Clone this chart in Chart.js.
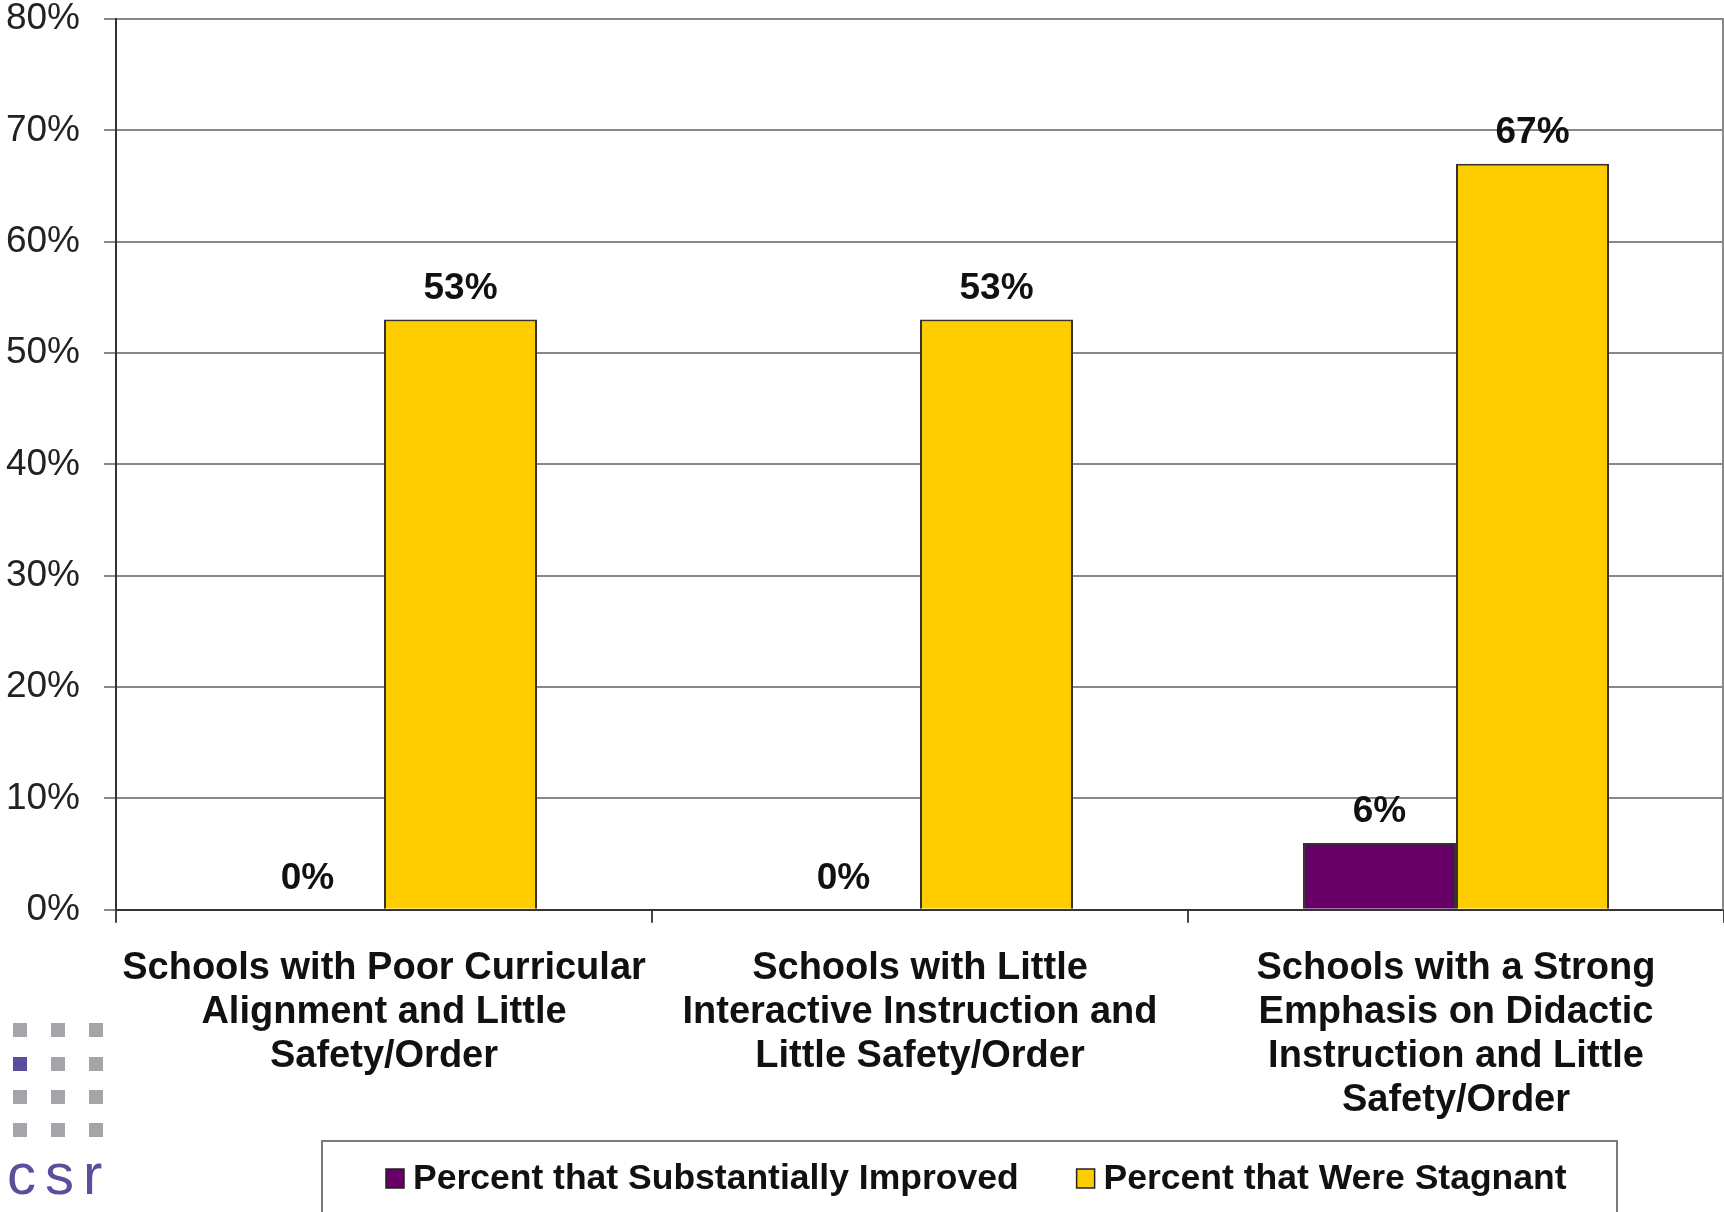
<!DOCTYPE html>
<html>
<head>
<meta charset="utf-8">
<script src="https://cdn.jsdelivr.net/npm/chart.js@4.4.0/dist/chart.umd.min.js"></script>
<style>
  body { margin: 0; background: #fff; }
  #wrap { position: relative; width: 1724px; height: 1212px; overflow: hidden; }
  #logo { position: absolute; left: 0; top: 0; }
  .sq { position: absolute; width: 14px; height: 14px; background: #a4a4a9; }
  .sq.on { background: #5a4f9b; }
  .lt { position: absolute; font: 58px "Liberation Sans", Arial, sans-serif; color: #5a4f9b; line-height: 1; }
</style>
</head>
<body>
<div id="wrap">
  <canvas id="myChart" width="1724" height="1212"></canvas>
  <div id="logo"></div>
</div>
<script>
var categories = [
    ['Schools with Poor Curricular', 'Alignment and Little', 'Safety/Order'],
    ['Schools with Little', 'Interactive Instruction and', 'Little Safety/Order'],
    ['Schools with a Strong', 'Emphasis on Didactic', 'Instruction and Little', 'Safety/Order']
];
var seriesNames = ['Percent that Substantially Improved', 'Percent that Were Stagnant'];
var improved = [0, 0, 6];
var stagnant = [53, 53, 67];
var yTicks = [0, 10, 20, 30, 40, 50, 60, 70, 80];

// small csr logo in the corner
var logo = document.getElementById('logo');
var cols = [13, 51, 89], rows = [1023, 1057, 1090, 1123];
rows.forEach(function (y, r) {
    cols.forEach(function (x, c) {
        var d = document.createElement('div');
        d.className = 'sq' + (r === 1 && c === 0 ? ' on' : '');
        d.style.left = x + 'px';
        d.style.top = y + 'px';
        logo.appendChild(d);
    });
});
['c', 's', 'r'].forEach(function (ch, i) {
    var s = document.createElement('span');
    s.className = 'lt';
    s.textContent = ch;
    s.style.left = (cols[i] - 6) + 'px';
    s.style.top = '1145px';
    logo.appendChild(s);
});

var labelFont = 'bold 37px "Liberation Sans", Arial, sans-serif';

// value labels over each bar
var valueLabels = {
    id: 'valueLabels',
    afterDatasetsDraw: function (chart) {
        var ctx = chart.ctx;
        ctx.save();
        ctx.font = labelFont;
        ctx.fillStyle = '#111';
        ctx.textAlign = 'center';
        ctx.textBaseline = 'middle';
        chart.data.datasets.forEach(function (ds, i) {
            chart.getDatasetMeta(i).data.forEach(function (bar, j) {
                ctx.fillText(ds.data[j] + '%', bar.x, bar.y - 31);
            });
        });
        ctx.restore();
    }
};

// right border of the plot and the boxed legend underneath
var frame = {
    id: 'frame',
    beforeDatasetsDraw: function (chart) {
        var ctx = chart.ctx, a = chart.chartArea;
        ctx.save();
        ctx.strokeStyle = '#888';
        ctx.lineWidth = 2;
        ctx.beginPath();
        ctx.moveTo(a.right - 1, a.top);
        ctx.lineTo(a.right - 1, a.bottom);
        ctx.stroke();
        ctx.restore();
    },
    afterDraw: function (chart) {
        var ctx = chart.ctx;
        ctx.save();
        ctx.strokeStyle = '#7a7a7a';
        ctx.lineWidth = 2;
        ctx.strokeRect(322, 1141, 1295, 90);
        ctx.font = 'bold 35.5px "Liberation Sans", Arial, sans-serif';
        ctx.textBaseline = 'middle';
        var x = 386;
        chart.data.datasets.forEach(function (ds) {
            ctx.fillStyle = ds.backgroundColor;
            ctx.fillRect(x, 1169, 18, 19);
            ctx.strokeStyle = '#222';
            ctx.lineWidth = 1.5;
            ctx.strokeRect(x, 1169, 18, 19);
            ctx.fillStyle = '#111';
            ctx.fillText(ds.label, x + 27, 1179);
            x += 27 + ctx.measureText(ds.label).width + 58;
        });
        ctx.restore();
    }
};

var ctx = document.getElementById('myChart').getContext('2d');
var myChart = new Chart(ctx, {
    type: 'bar',
    data: {
        labels: categories,
        datasets: [{
            label: seriesNames[0],
            data: improved,
            backgroundColor: '#660066',
            borderColor: '#333',
            borderWidth: function (c) { return c.raw === 0 ? 0 : 2; }
        }, {
            label: seriesNames[1],
            data: stagnant,
            backgroundColor: '#ffcc00',
            borderColor: '#333',
            borderWidth: function (c) { return c.raw === 0 ? 0 : 2; }
        }]
    },
    options: {
        responsive: false,
        animation: false,
        categoryPercentage: 0.571,
        barPercentage: 1,
        layout: {
            padding: { left: 6, right: 0, top: 19, bottom: 65 }
        },
        plugins: {
            legend: { display: false },
            tooltip: { enabled: false }
        },
        scales: {
            x: {
                grid: { drawOnChartArea: false, tickLength: 13, color: '#444', lineWidth: 2 },
                border: { color: '#333', width: 2 },
                ticks: {
                    autoSkip: false,
                    maxRotation: 0,
                    padding: 24,
                    color: '#111',
                    font: { family: '"Liberation Sans", Arial, sans-serif', size: 38, weight: 'bold', lineHeight: 1.16 }
                }
            },
            y: {
                min: yTicks[0],
                max: yTicks[yTicks.length - 1],
                afterBuildTicks: function (axis) {
                    axis.ticks = yTicks.map(function (v) { return { value: v }; });
                },
                afterFit: function (axis) {
                    axis.width = 110;
                    axis.paddingTop = 0;
                    axis.paddingBottom = 0;
                },
                grid: { color: '#888', lineWidth: 2, tickLength: 12 },
                border: { color: '#333', width: 2 },
                ticks: {
                    padding: 24,
                    color: '#222',
                    font: { family: '"Liberation Sans", Arial, sans-serif', size: 37 },
                    callback: function (v) { return v + '%'; }
                }
            }
        }
    },
    plugins: [valueLabels, frame]
});
</script>
</body>
</html>
